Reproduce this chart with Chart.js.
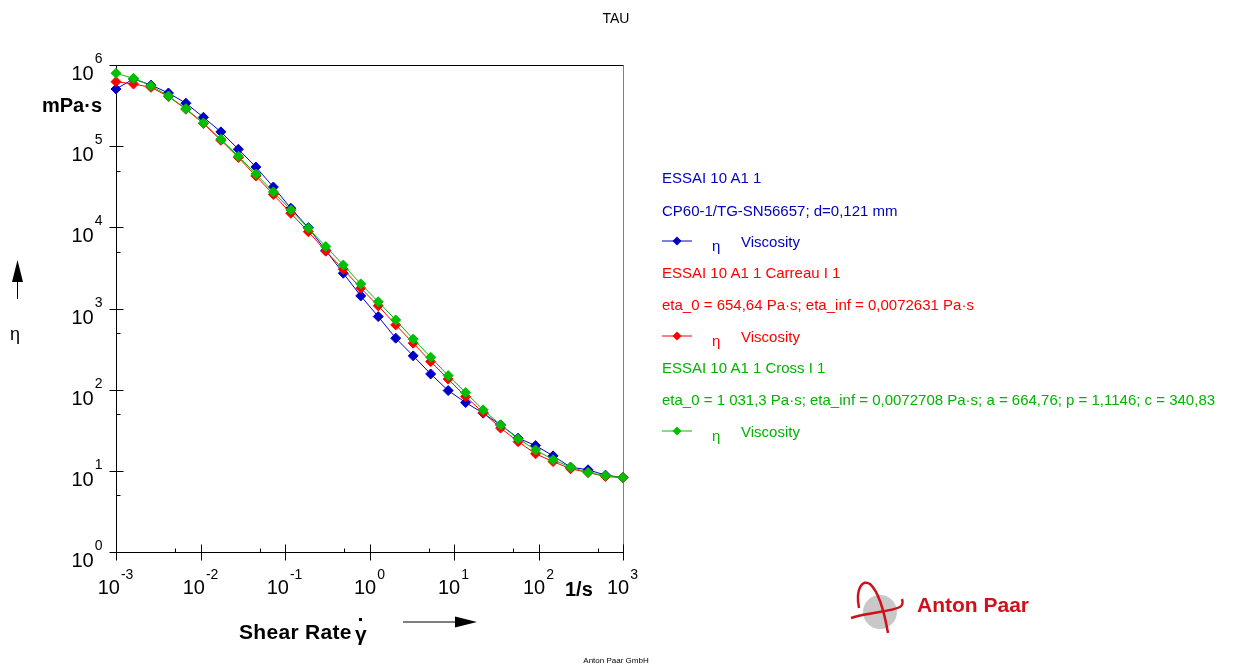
<!DOCTYPE html>
<html>
<head>
<meta charset="utf-8">
<title>TAU</title>
<script src="https://cdn.jsdelivr.net/npm/chart.js@4.4.1/dist/chart.umd.min.js"></script>
<style>
  html, body { margin: 0; padding: 0; background: #fff; }
  #wrap { position: relative; width: 1234px; height: 666px; overflow: hidden;
          font-family: Arial, "Liberation Sans", sans-serif; }
  #rheoChart { position: absolute; left: 0; top: 0; }
  .t { position: absolute; white-space: nowrap; line-height: 1; }
  .leg { position: absolute; left: 662px; font-size: 15px; white-space: nowrap; line-height: 15px; }
  .leg svg { position: absolute; left: 0; top: 1px; }
  .leg .eta { position: absolute; left: 50px; top: 4px; font-size: 15px; }
  .leg .nm { position: absolute; left: 79px; top: 0; }
  .blue { color: #0000c0; }
  .red { color: #ff0000; }
  .green { color: #00b400; }
</style>
</head>
<body>
<div id="wrap">
  <canvas id="rheoChart" width="1234" height="666"></canvas>

  <div class="t" style="left:0;width:1232px;top:11px;text-align:center;font-size:14px;">TAU</div>

  <!-- y axis title -->
  <div class="t" style="left:42px;top:95px;font-size:20px;font-weight:bold;">mPa·s</div>
  <svg class="t" style="left:9px;top:256px;" width="18" height="46">
    <polygon points="8.5,4 3,26 14,26" fill="#000"/>
    <line x1="8.5" y1="24" x2="8.5" y2="43" stroke="#000" stroke-width="1"/>
  </svg>
  <div class="t" style="left:10px;top:325px;font-size:18px;">η</div>

  <!-- x axis title -->
  <div class="t" style="left:239px;top:621px;font-size:21px;font-weight:bold;letter-spacing:0.3px;">Shear Rate</div>
  <div class="t" style="left:355px;top:623px;font-size:21px;font-weight:bold;">γ</div>
  <div class="t" style="left:359px;top:618px;width:3px;height:3px;background:#000;"></div>
  <svg class="t" style="left:400px;top:614px;" width="80" height="16">
    <line x1="3" y1="8" x2="58" y2="8" stroke="#000" stroke-width="1"/>
    <polygon points="55,2.5 77,8 55,13.5" fill="#000"/>
  </svg>
  <div class="t" style="left:565px;top:579px;font-size:20px;font-weight:bold;">1/s</div>

  <!-- legend -->
  <div class="leg blue" style="top:170px;">ESSAI 10 A1 1</div>
  <div class="leg blue" style="top:203px;">CP60-1/TG-SN56657; d=0,121 mm</div>
  <div class="leg blue" style="top:234px;">
    <svg width="34" height="12"><line x1="0" y1="6" x2="30" y2="6" stroke="#0000c0"/><polygon points="15,1.5 19.5,6 15,10.5 10.5,6" fill="#0000c0"/></svg>
    <span class="eta">η</span><span class="nm">Viscosity</span>
  </div>
  <div class="leg red" style="top:265px;">ESSAI 10 A1 1 Carreau I 1</div>
  <div class="leg red" style="top:297px;">eta_0 = 654,64 Pa·s; eta_inf = 0,0072631 Pa·s</div>
  <div class="leg red" style="top:329px;">
    <svg width="34" height="12"><line x1="0" y1="6" x2="30" y2="6" stroke="#ff0000"/><polygon points="15,1.5 19.5,6 15,10.5 10.5,6" fill="#ff0000"/></svg>
    <span class="eta">η</span><span class="nm">Viscosity</span>
  </div>
  <div class="leg green" style="top:360px;">ESSAI 10 A1 1 Cross I 1</div>
  <div class="leg green" style="top:392px;">eta_0 = 1 031,3 Pa·s; eta_inf = 0,0072708 Pa·s; a = 664,76; p = 1,1146; c = 340,83</div>
  <div class="leg green" style="top:424px;">
    <svg width="34" height="12"><line x1="0" y1="6" x2="30" y2="6" stroke="#00c000"/><polygon points="15,1.5 19.5,6 15,10.5 10.5,6" fill="#00c000"/></svg>
    <span class="eta">η</span><span class="nm">Viscosity</span>
  </div>

  <!-- logo -->
  <svg class="t" style="left:845px;top:574px;" width="70" height="64">
    <circle cx="35" cy="38" r="17" fill="#c8c8c8"/>
    <path d="M14,34 C10,14 18,5 25,10 C34,18 40,42 43,59" fill="none" stroke="#d0101a" stroke-width="2.5"/>
    <path d="M6,44 C25,38 45,38 55,33 C58,31 58,28 57,25" fill="none" stroke="#d0101a" stroke-width="2.5"/>
  </svg>
  <div class="t" style="left:917px;top:594px;font-size:21px;font-weight:bold;color:#d0101a;">Anton Paar</div>

  <div class="t" style="left:0;width:1232px;top:657px;text-align:center;font-size:8px;">Anton Paar GmbH</div>
</div>

<script>
// shear rate sweep, 30 points log from 0.001 to 1000 1/s
const shearRate = [0.001, 0.00161, 0.002593, 0.004175, 0.006723, 0.01083, 0.01743, 0.02807, 0.0452, 0.07279,
                   0.1172, 0.1887, 0.3039, 0.4894, 0.788, 1.269, 2.043, 3.29, 5.298, 8.532,
                   13.74, 22.12, 35.62, 57.36, 92.36, 148.7, 239.5, 385.7, 621.0, 1000];

// viscosity in mPa·s
const etaMeasured = [506000, 673000, 567000, 452000, 338000, 227000, 150000, 91600, 55400, 31400,
                     17200, 9920, 5190, 2720, 1430, 795, 431, 261, 156, 97.5,
                     69.4, 51.3, 36.8, 25.3, 20.5, 15.3, 11.1, 10.3, 8.85, 8.27];
const etaCarreau  = [623000, 583000, 531000, 409000, 285000, 190000, 118000, 72600, 42900, 25400,
                     14900, 8850, 5080, 3050, 1780, 1080, 628, 374, 222, 135,
                     82.2, 52.2, 33.6, 22.9, 16.2, 13.0, 10.6, 9.53, 8.51, 8.27];
const etaCross    = [790000, 686000, 556000, 415000, 290000, 193000, 122000, 75100, 45400, 27300,
                     16400, 9750, 5790, 3440, 2010, 1210, 724, 420, 251, 149,
                     92.1, 56.4, 36.8, 24.8, 18.1, 13.7, 11.1, 9.53, 8.68, 8.27];

// decade tick labels (10^n)
const xDecades = [-3, -2, -1, 0, 1, 2, 3];
const yDecades = [0, 1, 2, 3, 4, 5, 6];

const toPoints = (vals) => vals.map((v, i) => ({ x: shearRate[i], y: v }));

function series(label, vals, color, order) {
  return {
    label: label,
    data: toPoints(vals),
    borderColor: color,
    backgroundColor: color,
    borderWidth: 1,
    pointStyle: "rectRot",
    pointRadius: 5,
    pointBorderWidth: 1,
    pointBorderColor: color,
    pointBackgroundColor: color,
    tension: 0,
    clip: 10,
    order: order
  };
}

// axes, ticks and 10^n labels drawn off the chart's own scales
const rheoAxes = {
  id: "rheoAxes",
  beforeDatasetsDraw(chart) {
    const { ctx, chartArea: a, scales: { x, y } } = chart;
    const c = (v) => Math.round(v) + 0.5;
    const line = (x1, y1, x2, y2) => { ctx.beginPath(); ctx.moveTo(x1, y1); ctx.lineTo(x2, y2); ctx.stroke(); };
    const L = c(a.left), R = c(a.right), T = c(a.top), B = c(a.bottom);

    ctx.save();
    ctx.lineWidth = 1;
    ctx.strokeStyle = "#808080";
    line(R, T, R, B);
    ctx.strokeStyle = "#000";
    line(L, T, R, T);
    line(L, T, L, B + 7);
    line(L, B, R, B);

    ctx.fillStyle = "#000";
    ctx.textBaseline = "alphabetic";

    // x axis
    xDecades.forEach(d => {
      const px = c(x.getPixelForValue(Math.pow(10, d)));
      line(px, B - 8, px, B + 8);
      if (d < 3) {
        const pm = c(x.getPixelForValue(5 * Math.pow(10, d)));
        line(pm, B - 4, pm, B);
      }
      ctx.font = "20px Arial, 'Liberation Sans', sans-serif";
      const w1 = ctx.measureText("10").width;
      ctx.font = "14px Arial, 'Liberation Sans', sans-serif";
      const sup = String(d);
      const w2 = ctx.measureText(sup).width;
      const x0 = px - (w1 + 1 + w2) / 2 - 1;
      ctx.font = "20px Arial, 'Liberation Sans', sans-serif";
      ctx.textAlign = "left";
      ctx.fillText("10", x0, B + 41);
      ctx.font = "14px Arial, 'Liberation Sans', sans-serif";
      ctx.fillText(sup, x0 + w1 + 1, B + 26);
    });

    // y axis
    yDecades.forEach(d => {
      const py = c(y.getPixelForValue(Math.pow(10, d)));
      line(L - 7, py, L + 7, py);
      if (d < 6) {
        const pm = c(y.getPixelForValue(5 * Math.pow(10, d)));
        line(L, pm, L + 4, pm);
      }
      const sup = String(d);
      ctx.font = "14px Arial, 'Liberation Sans', sans-serif";
      const w2 = ctx.measureText(sup).width;
      const xr = L - 14;
      ctx.textAlign = "left";
      ctx.fillText(sup, xr - w2, py - 3);
      ctx.font = "20px Arial, 'Liberation Sans', sans-serif";
      ctx.textAlign = "right";
      ctx.fillText("10", xr - w2 - 1, py + 14);
    });
    ctx.restore();
  }
};

const ctx = document.getElementById("rheoChart").getContext("2d");

const rheoChart = new Chart(ctx, {
  type: "line",
  data: {
    datasets: [
      series("η Viscosity (ESSAI 10 A1 1)", etaMeasured, "#0000c8", 3),
      series("η Viscosity (Carreau I 1)", etaCarreau, "#ff0000", 2),
      series("η Viscosity (Cross I 1)", etaCross, "#00c000", 1)
    ]
  },
  options: {
    responsive: false,
    animation: false,
    events: [],
    layout: { padding: { left: 116, right: 611, top: 65, bottom: 114 } },
    plugins: { legend: { display: false }, tooltip: { enabled: false } },
    scales: {
      x: { type: "logarithmic", min: 0.001, max: 1000, display: false },
      y: { type: "logarithmic", min: 1, max: 1000000, display: false }
    }
  },
  plugins: [rheoAxes]
});
</script>
</body>
</html>
